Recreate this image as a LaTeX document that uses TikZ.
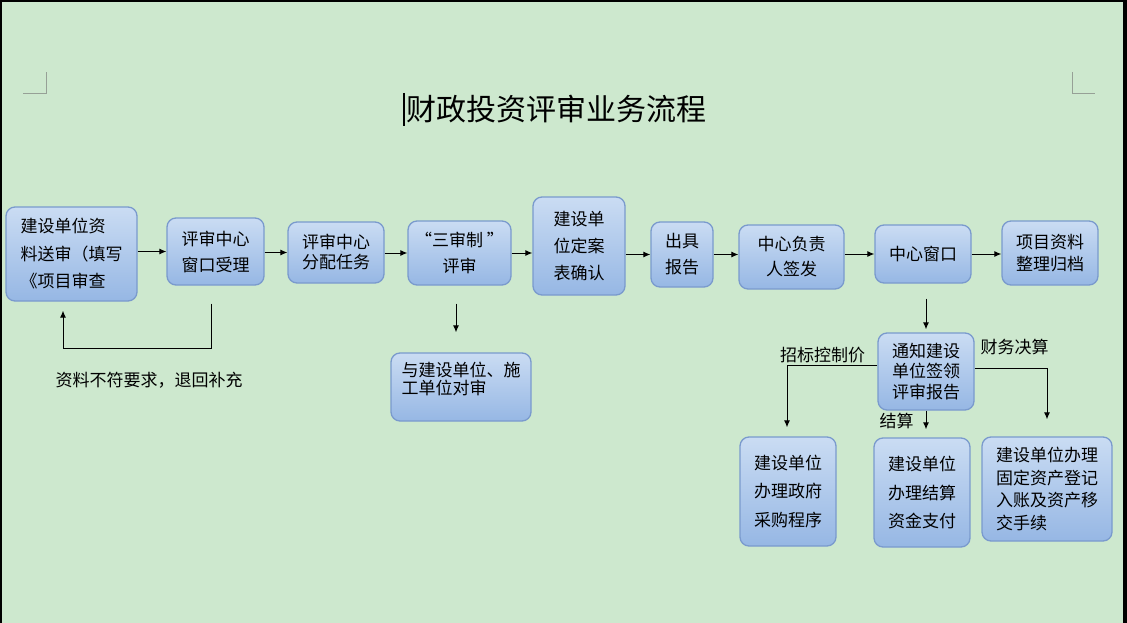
\documentclass[tikz,border=0pt]{standalone}
\usepackage{fontspec}
\newfontfamily\cjk{Noto Sans CJK SC}
\usetikzlibrary{arrows.meta,calc}
\definecolor{bg}{RGB}{205,232,206}
\definecolor{boxtop}{RGB}{202,220,243}
\definecolor{boxbot}{RGB}{150,183,228}
\definecolor{boxline}{RGB}{122,154,205}
\definecolor{markc}{RGB}{150,160,150}
\tikzset{
  box/.style={draw=boxline, line width=1.3pt, rounded corners=9pt, top color=boxtop, bottom color=boxbot, inner sep=0pt, align=center},
  arr/.style={-{Latex[length=7pt,width=6pt]}, line width=1pt, black},
  lbl/.style={font=\cjk\fontsize{17}{20}\selectfont, inner sep=0pt},
  cmark/.style={draw=markc, line width=0.9pt}
}
\newcommand{\fs}[1]{\cjk\fontsize{17}{#1}\selectfont}
\begin{document}
\begin{tikzpicture}[x=1pt,y=-1pt]
\useasboundingbox (0,0) rectangle (1127,623);
\fill[bg] (0,0) rectangle (1127,623);
\fill[black] (0,0) rectangle (2,623);
\fill[black] (0,0) rectangle (1127,2);
\fill[black] (1123,0) rectangle (1127,623);
% corner marks
\draw[cmark] (23,93) -- (46,93) -- (46,72);
\draw[cmark] (1072,72) -- (1072,93) -- (1095,93);
% title
\node[font=\cjk\fontsize{30}{30}\selectfont, inner sep=0pt] (title) at (556,109) {财政投资评审业务流程};
\draw[line width=1.2pt] (404,93) -- (404,126);
% boxes
\node[box, minimum width=131, minimum height=94, align=left, font=\fs{27.5}] (n1) at (71.5,254) {建设单位资\\料送审（填写\\《项目审查};
\node[box, minimum width=97, minimum height=67, font=\fs{26}] (n2) at (215.5,251.5) {评审中心\\窗口受理};
\node[box, minimum width=96, minimum height=61, font=\fs{20}] (n3) at (336,252.5) {评审中心\\分配任务};
\node[box, minimum width=103, minimum height=64, font=\fs{26}] (n4) at (459.5,253) {“三审制 ”\\评审};
\node[box, minimum width=92, minimum height=98, font=\fs{27}] (n5) at (579,246) {建设单\\位定案\\表确认};
\node[box, minimum width=62, minimum height=65, font=\fs{26}] (n6) at (682,254.5) {出具\\报告};
\node[box, minimum width=105, minimum height=64, font=\fs{25}] (n7) at (791.5,257) {中心负责\\人签发};
\node[box, minimum width=96, minimum height=58, font=\fs{20}] (n8) at (923,254) {中心窗口};
\node[box, minimum width=96, minimum height=64, font=\fs{22}] (n9) at (1050,253) {项目资料\\整理归档};
\node[box, minimum width=140, minimum height=68, align=left, font=\fs{18}] (n10) at (461,387) {与建设单位、施\\工单位对审\\\mbox{}};
\node[box, minimum width=96, minimum height=77, font=\fs{20.5}] (n11) at (926,371.5) {通知建设\\单位签领\\评审报告};
\node[box, minimum width=96, minimum height=109, font=\fs{28.5}] (n12) at (788,491.5) {建设单位\\办理政府\\采购程序};
\node[box, minimum width=96, minimum height=109, font=\fs{28.5}] (n13) at (922,492.5) {建设单位\\办理结算\\资金支付};
\node[box, minimum width=130, minimum height=104, align=left, font=\fs{22.5}] (n14) at (1047,489) {建设单位办理\\固定资产登记\\入账及资产移\\交手续};
% main flow
\draw[arr] (n1.east |- n2.west) -- (n2.west);
\draw[arr] (n2.east |- n3.west) -- (n3.west);
\draw[arr] (n3.east |- n4.west) -- (n4.west);
\draw[arr] (n4.east) -- (n4.east -| n5.west);
\draw[arr] (n5.east |- n6.west) -- (n6.west);
\draw[arr] (n6.east) -- (n6.east -| n7.west);
\draw[arr] (n7.east |- n8.west) -- (n8.west);
\draw[arr] (n8.east) -- (n8.east -| n9.west);
% feedback
\draw[arr] ($(n2.south)+(-4.5,18)$) |- ($(n1.south)+(-8.5,47)$) -- ($(n1.south)+(-8.5,9)$);
\node[lbl] (fbl) at (149,380) {资料不符要求，退回补充};
% down branches
\draw[arr] ($(n4.south)+(-3.5,18)$) -- ($(n10.north)+(-5,-20)$);
\draw[arr] ($(n8.south)+(3,15)$) -- ($(n11.north)+(0,-3)$);
\draw[arr] ($(n11.west)+(0,-6.5)$) -| ($(n12.north)+(-1,-9)$);
\draw[arr] (n11.south) -- ($(n13.north)+(4,-8)$);
\draw[arr] ($(n11.east)+(0,-3.5)$) -| ($(n14.north)+(0,-17)$);
\node[lbl] (l1) at (822.5,355) {招标控制价};
\node[lbl] (l2) at (896.5,421) {结算};
\node[lbl] (l3) at (1014.5,347) {财务决算};
\end{tikzpicture}
\end{document}
